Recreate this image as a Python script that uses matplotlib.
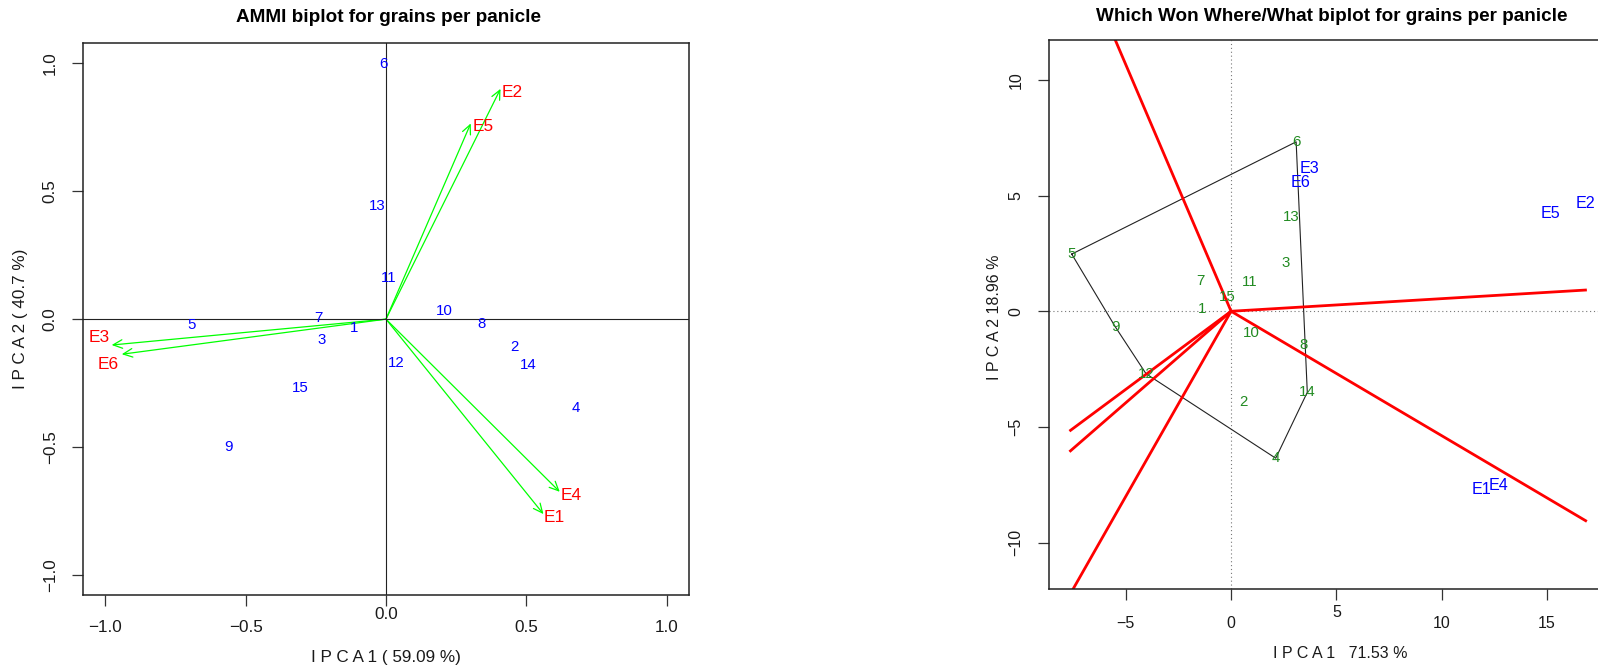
import matplotlib
matplotlib.use('Agg')
import matplotlib.pyplot as plt
import matplotlib.transforms as mtransforms
from matplotlib.patches import FancyArrowPatch

plt.rcParams['font.family'] = ['Liberation Sans', 'DejaVu Sans']

# ---- data: AMMI biplot (left) ----
genotypes = ['1', '2', '3', '4', '5', '6', '7', '8', '9', '10', '11', '12', '13', '14', '15']
ammi_gen_x = [-0.112, 0.456, -0.231, 0.675, -0.691, -0.010, -0.239, 0.341, -0.561, 0.207,
              0.011, 0.038, -0.030, 0.507, -0.307]
ammi_gen_y = [-0.034, -0.108, -0.083, -0.348, -0.024, 0.997, 0.006, -0.017, -0.499, 0.031,
              0.161, -0.172, 0.442, -0.179, -0.269]
environments = ['E1', 'E2', 'E3', 'E4', 'E5', 'E6']
ammi_env_x = [0.561, 0.408, -0.977, 0.619, 0.302, -0.941]
ammi_env_y = [-0.761, 0.899, -0.101, -0.674, 0.764, -0.137]
ammi_ticks = [-1.0, -0.5, 0.0, 0.5, 1.0]

# ---- data: which-won-where biplot (right) ----
gge_gen_x = [-1.36, 0.58, 2.61, 2.12, -7.57, 3.09, -1.47, 3.43, -5.51, 0.98,
             0.87, -4.04, 2.85, 3.62, -0.20]
gge_gen_y = [0.08, -3.90, 2.10, -6.35, 2.47, 7.32, 1.32, -1.46, -0.66, -0.96,
             1.27, -2.70, 4.06, -3.50, 0.62]
gge_env_x = [11.91, 16.82, 3.71, 12.70, 15.19, 3.31]
gge_env_y = [-7.72, 4.66, 6.17, -7.51, 4.23, 5.55]
sector_end_x = [-7.68, 16.9, 16.9, -7.68, -7.68, -7.68]
sector_end_y = [16.36, 0.92, -9.08, -5.18, -6.07, -12.28]
gge_xticks = [-5, 0, 5, 10, 15]
gge_yticks = [-10, -5, 0, 5, 10]

# label offsets for environment names in the AMMI panel (points)
env_label_offset = [(7.7, -2.6), (8.3, -2.6), (-8.7, 5.2), (8.3, -2.6), (9.1, -2.2), (-9.7, -7.2)]


def convex_hull(xs, ys):
    pts = sorted(set(zip(xs, ys)))

    def cross(o, a, b):
        return (a[0] - o[0]) * (b[1] - o[1]) - (a[1] - o[1]) * (b[0] - o[0])

    lower, upper = [], []
    for p in pts:
        while len(lower) >= 2 and cross(lower[-2], lower[-1], p) <= 0:
            lower.pop()
        lower.append(p)
    for p in reversed(pts):
        while len(upper) >= 2 and cross(upper[-2], upper[-1], p) <= 0:
            upper.pop()
        upper.append(p)
    hull = lower[:-1] + upper[:-1]
    return hull + [hull[0]]


def style_axes(ax, xticks, yticks, fmt, raised, fs, xpad, ypad, raise_by):
    for s in ax.spines.values():
        s.set_color('#222222')
        s.set_linewidth(1.1)
    ax.set_xticks(xticks)
    ax.set_yticks(yticks)
    ax.tick_params(length=7.9, width=0.9, color='#333333', direction='out',
                   labelbottom=False, labelleft=False)
    tx = mtransforms.blended_transform_factory(ax.transData, ax.transAxes)
    ty = mtransforms.blended_transform_factory(ax.transAxes, ax.transData)
    for v in xticks:
        dy = xpad - (raise_by if v in raised else 0)
        tr = mtransforms.offset_copy(tx, fig=ax.figure, y=-dy, units='points')
        ax.text(v, 0, fmt(v), transform=tr, ha='center', va='center', fontsize=fs,
                color='#1a1a1a', clip_on=False)
    for v in yticks:
        tr = mtransforms.offset_copy(ty, fig=ax.figure, x=-ypad, units='points')
        ax.text(0, v, fmt(v), transform=tr, ha='center', va='center', rotation=90,
                fontsize=fs, color='#1a1a1a', clip_on=False)


def fmt1(v):
    return f'{v:.1f}'.replace('-', '\u2212')


def fmt0(v):
    return f'{v:d}'.replace('-', '\u2212')


fig = plt.figure(figsize=(15.98, 6.72), dpi=100)

# ---------------- left panel ----------------
ax1 = fig.add_axes([0.05213, 0.11414, 0.37879, 0.82188])
ax1.set_xlim(-1.078, 1.078)
ax1.set_ylim(-1.078, 1.078)
ax1.axhline(0, color='#222222', lw=0.8)
ax1.axvline(0, color='#222222', lw=0.8)

for name, x, y in zip(genotypes, ammi_gen_x, ammi_gen_y):
    ax1.text(x, y, name, color='#0000ff', fontsize=10.8, ha='center', va='center')

for name, x, y, off in zip(environments, ammi_env_x, ammi_env_y, env_label_offset):
    arr = FancyArrowPatch((0, 0), (x, y), arrowstyle='->,head_length=0.6,head_width=0.28',
                          mutation_scale=11, color='#00ff00', lw=0.9, shrinkA=0, shrinkB=0)
    ax1.add_patch(arr)
    ax1.annotate(name, (x, y), xytext=off, textcoords='offset points', color='#ff0000',
                 fontsize=12.4, ha='center', va='center')

style_axes(ax1, ammi_ticks, ammi_ticks, fmt1, {0.0}, 12.3, 23.3, 23.8, 9.6)
ax1.text(0.505, 1.047, 'AMMI biplot for grains per panicle', transform=ax1.transAxes,
         ha='center', va='center', fontsize=13.6, fontweight='bold')
ax1.text(0.5, -0.113, 'I P C A 1 ( 59.09 %)', transform=ax1.transAxes,
         ha='center', va='center', fontsize=12.3, color='#1a1a1a')
ax1.text(-0.104, 0.5, 'I P C A 2 ( 40.7 %)', transform=ax1.transAxes, rotation=90,
         ha='center', va='center', fontsize=12.3, color='#1a1a1a')

# ---------------- right panel ----------------
ax2 = fig.add_axes([0.65645, 0.12351, 0.35106, 0.81696])
ax2.set_xlim(-8.65, 18.0)
ax2.set_ylim(-12.0, 11.72)
ax2.axhline(0, color='#777777', lw=0.8, ls=(0, (1, 2.5)))
ax2.axvline(0, color='#777777', lw=0.8, ls=(0, (1, 2.5)))

hull = convex_hull(gge_gen_x, gge_gen_y)
ax2.plot([p[0] for p in hull], [p[1] for p in hull], color='#222222', lw=0.8)

for x, y in zip(sector_end_x, sector_end_y):
    ax2.plot([0, x], [0, y], color='#ff0000', lw=2.0, solid_capstyle='butt')

for name, x, y in zip(genotypes, gge_gen_x, gge_gen_y):
    ax2.text(x, y, name, color='#228b22', fontsize=10.8, ha='center', va='center')
for name, x, y in zip(environments, gge_env_x, gge_env_y):
    ax2.text(x, y, name, color='#0000ff', fontsize=11.6, ha='center', va='center')

style_axes(ax2, gge_xticks, gge_yticks, fmt0, {5}, 11.5, 24.7, 23.8, 7.6)
ax2.text(0.504, 1.042, 'Which Won Where/What biplot for grains per panicle',
         transform=ax2.transAxes, ha='center', va='center', fontsize=13.6, fontweight='bold')
ax2.text(0.519, -0.117, 'I P C A 1   71.53 %', transform=ax2.transAxes,
         ha='center', va='center', fontsize=11.5, color='#1a1a1a')
ax2.text(-0.0963, 0.495, 'I P C A 2 18.96 %', transform=ax2.transAxes, rotation=90,
         ha='center', va='center', fontsize=11.5, color='#1a1a1a')

fig.savefig('out.png', dpi=100)
